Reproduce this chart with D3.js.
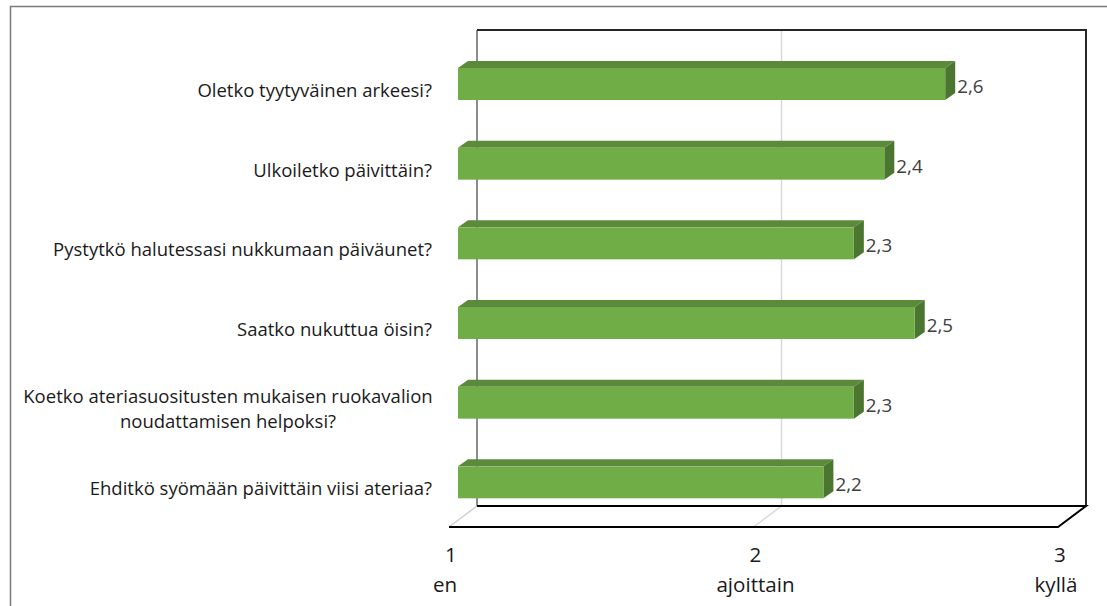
<!DOCTYPE html>
<html>
<head>
<meta charset="utf-8">
<script src="https://cdn.jsdelivr.net/npm/d3@7"></script>
<style>
  html, body { margin: 0; padding: 0; background: #fff; }
  svg { display: block; }
  text { font-family: "Open Sans", Lato, sans-serif; }
</style>
</head>
<body>
<svg id="chart" width="1107" height="606"></svg>
<script>
// Survey questions (top to bottom) and their mean answers on a 1–3 scale
const questions = [
  "Oletko tyytyväinen arkeesi?",
  "Ulkoiletko päivittäin?",
  "Pystytkö halutessasi nukkumaan päiväunet?",
  "Saatko nukuttua öisin?",
  "Koetko ateriasuositusten mukaisen ruokavalion|noudattamisen helpoksi?",
  "Ehditkö syömään päivittäin viisi ateriaa?"
];
const means = [2.6, 2.4, 2.3, 2.5, 2.3, 2.2];
const tickValues = [1, 2, 3];
const tickNames = ["en", "ajoittain", "kyllä"];

const svg = d3.select("#chart");

// Scales on the back wall of the 3D box
const x = d3.scaleLinear().domain([1, 3]).range([477, 1086]);
const y = d3.scaleBand().domain(questions).range([30, 508]).padding(0);

// Depth offsets (pixels) for the floor and for the bars
const floorDx = -28, floorDy = 21;
const barFrontDx = -19;          // bar front face relative to back wall
const barDepthDx = 10, barDepthDy = -7;
const barTopOffset = 38, barH = 32;

const xFront = v => x(v) + barFrontDx;
const fmt = v => d3.format(".1f")(v).replace(".", ",");

const labelSize = 18.5, valueSize = 18.8, axisSize = 20.6;

// Outer frame
svg.append("path")
  .attr("d", "M10.5,606 V6.5 H1107")
  .attr("fill", "none").attr("stroke", "#7a7a7a").attr("stroke-width", 1.5);

const floorY = y.range()[1] - 2;
const wallTop = y.range()[0];

// Gridline at the middle value, continued across the floor
const g = svg.append("g");
tickValues.filter(t => t > 1 && t < 3).forEach(t => {
  g.append("path")
    .attr("d", `M${x(t)},${wallTop} V${floorY} l${floorDx},${floorDy}`)
    .attr("fill", "none").attr("stroke", "#d9d9d9").attr("stroke-width", 1.5);
});

// Left wall edge and floor diagonal
g.append("path")
  .attr("d", `M${x(1)},${wallTop} V${floorY}`)
  .attr("stroke", "#8c8c8c").attr("stroke-width", 2).attr("fill", "none");
g.append("path")
  .attr("d", `M${x(1)},${floorY} l${floorDx},${floorDy}`)
  .attr("stroke", "#d0d0d0").attr("stroke-width", 1.5).attr("fill", "none");

// Top edge of back wall and right edge
g.append("path")
  .attr("d", `M${x(1)},${wallTop} H${x(3)} V${floorY}`)
  .attr("stroke", "#262626").attr("stroke-width", 2).attr("fill", "none");

// Floor: back edge, right diagonal, front edge
g.append("path")
  .attr("d", `M${x(1)},${floorY} H${x(3)} l${floorDx},${floorDy} H${x(1) + floorDx}`)
  .attr("stroke", "#000").attr("stroke-width", 2).attr("fill", "none")
  .attr("stroke-linejoin", "miter");

// Bars
const bars = svg.append("g").selectAll("g").data(questions).join("g");
bars.each(function(q, i) {
  const sel = d3.select(this);
  const v = means[i];
  const x0 = xFront(1), x1 = xFront(v);
  const yt = y(q) + barTopOffset, yb = yt + barH;
  // top face
  sel.append("path")
    .attr("d", `M${x0},${yt} l${barDepthDx},${barDepthDy} H${x1 + barDepthDx} L${x1},${yt} Z`)
    .attr("fill", "#5b8a3a");
  // side face
  sel.append("path")
    .attr("d", `M${x1},${yt} l${barDepthDx},${barDepthDy} V${yb + barDepthDy} L${x1},${yb} Z`)
    .attr("fill", "#4b7630");
  // front face
  sel.append("rect")
    .attr("x", x0).attr("y", yt)
    .attr("width", x1 - x0).attr("height", barH)
    .attr("fill", "#70ad47");
  // value label
  sel.append("text")
    .attr("x", x1 + barDepthDx + 2)
    .attr("y", yt + 25)
    .attr("font-size", valueSize).attr("fill", "#404040")
    .text(fmt(v));
});

// Category labels
const labels = svg.append("g").selectAll("text").data(questions).join("text")
  .attr("font-size", labelSize)
  .attr("fill", "#1a1a1a");
labels.each(function(q) {
  const lines = q.split("|");
  const cy = y(q) + barTopOffset + barH / 2 + 7;
  const lh = 25;
  const t = d3.select(this);
  lines.forEach((ln, k) => {
    t.append("tspan")
      .attr("x", lines.length > 1 ? 228 : 432)
      .attr("text-anchor", lines.length > 1 ? "middle" : "end")
      .attr("y", cy + (k - (lines.length - 1) / 2) * lh + 6)
      .text(ln);
  });
});

// Value axis labels along the front edge of the floor
const axisG = svg.append("g");
tickValues.forEach((t, i) => {
  const cx = x(t) + floorDx + 2;
  axisG.append("text")
    .attr("x", cx).attr("y", 562)
    .attr("text-anchor", "middle").attr("font-size", axisSize).attr("fill", "#1a1a1a")
    .text(t);
  axisG.append("text")
    .attr("x", cx - (i === 0 ? 6 : i === 2 ? 4 : 0)).attr("y", 592)
    .attr("text-anchor", "middle").attr("font-size", axisSize).attr("fill", "#1a1a1a")
    .text(tickNames[i]);
});
</script>
</body>
</html>
